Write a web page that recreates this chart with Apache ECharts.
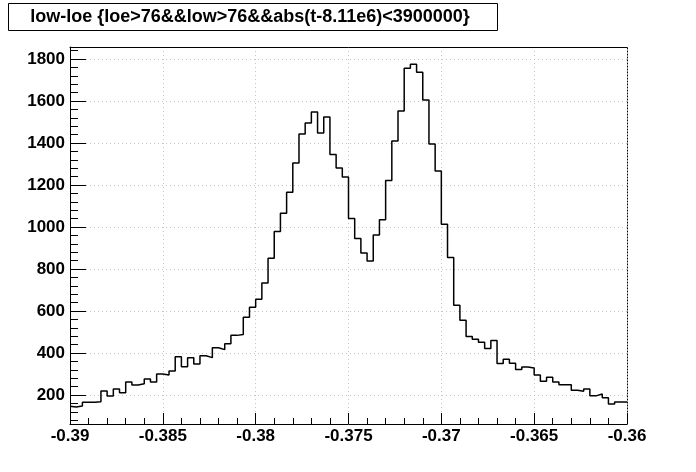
<!DOCTYPE html>
<html>
<head>
<meta charset="utf-8">
<script src="https://cdn.jsdelivr.net/npm/echarts@6/dist/echarts.min.js"></script>
<style>
html,body{margin:0;padding:0;background:#fff;}
#chart{width:696px;height:472px;}
</style>
</head>
<body>
<div id="chart"></div>
<script>
const titleText = 'low-loe {loe>76&&low>76&&abs(t-8.11e6)<3900000}';
const xMin = -0.39;
const xMax = -0.36;
const xTickStep = 0.005;
const yMin = 62;
const yMax = 1857;
const yTickValues = [200, 400, 600, 800, 1000, 1200, 1400, 1600, 1800];
const yMinorStep = 40;
const counts = [
  146, 143, 148, 165, 166, 168, 219, 195, 229, 211,
  262, 248, 254, 276, 262, 300, 295, 314, 382, 335,
  378, 348, 387, 378, 425, 416, 444, 484, 488, 570,
  618, 656, 733, 851, 979, 1065, 1166, 1305, 1443, 1495,
  1548, 1448, 1524, 1345, 1281, 1238, 1040, 945, 876, 838,
  962, 1035, 1221, 1410, 1552, 1756, 1775, 1737, 1605, 1395,
  1267, 1013, 855, 627, 556, 479, 465, 451, 422, 460,
  350, 370, 351, 321, 333, 329, 295, 266, 285, 262,
  249, 249, 223, 218, 229, 196, 205, 187, 157, 167
];

const binWidth = (xMax - xMin) / counts.length;
const stepData = counts.map((c, k) => [xMin + k * binWidth, c]);
stepData.push([xMax, counts[counts.length - 1]]);

const yMinorValues = [];
for (let v = Math.ceil(yMin / yMinorStep) * yMinorStep; v <= yMax; v += yMinorStep) {
  if (v % 200 !== 0) yMinorValues.push(v);
}

const FONT = '"Liberation Sans", Arial, Helvetica, sans-serif';
const gridCol = '#c4c4c4';

const chart = echarts.init(document.getElementById('chart'), null, {renderer: 'canvas'});
chart.setOption({
  animation: false,
  backgroundColor: '#fff',
  grid: {left: 70, right: 69, top: 47, bottom: 48, containLabel: false},
  xAxis: [
    {
      type: 'value', min: xMin, max: xMax, interval: xTickStep, position: 'bottom',
      axisLine: {show: true, onZero: false, lineStyle: {color: '#000', width: 1}},
      axisTick: {show: true, inside: true, length: 11, lineStyle: {color: '#000'}},
      minorTick: {show: true, splitNumber: 5, length: 6, lineStyle: {color: '#000'}},
      axisLabel: {
        color: '#000', fontFamily: FONT, fontWeight: 'bold', fontSize: 17, margin: 4,
        formatter: v => parseFloat(v.toFixed(4)).toString()
      },
      splitLine: {show: true, lineStyle: {color: gridCol, type: [1, 3], width: 1}}
    },
    {
      type: 'value', min: xMin, max: xMax, position: 'top',
      axisLine: {show: true, onZero: false, lineStyle: {color: '#000', width: 1}},
      axisTick: {show: false}, axisLabel: {show: false}, splitLine: {show: false}
    }
  ],
  yAxis: [
    {
      type: 'value', min: yMin, max: yMax, position: 'left',
      axisLine: {show: true, onZero: false, lineStyle: {color: '#000', width: 1}},
      axisTick: {show: true, inside: true, length: 16, customValues: yTickValues, lineStyle: {color: '#000'}},
      axisLabel: {
        color: '#000', fontFamily: FONT, fontWeight: 'bold', fontSize: 17, margin: 5,
        customValues: yTickValues,
        formatter: v => String(Math.round(v))
      },
      splitLine: {show: true, lineStyle: {color: gridCol, type: [1, 3], width: 1}}
    },
    {
      type: 'value', min: yMin, max: yMax, position: 'left',
      axisLine: {show: false},
      axisTick: {show: true, inside: true, length: 8, customValues: yMinorValues, lineStyle: {color: '#000'}},
      axisLabel: {show: false}, splitLine: {show: false}
    },
    {
      type: 'value', min: yMin, max: yMax, position: 'right',
      axisLine: {show: true, onZero: false, lineStyle: {color: '#000', width: 1, type: [1, 2]}},
      axisTick: {show: false}, axisLabel: {show: false}, splitLine: {show: false}
    }
  ],
  series: [{
    type: 'line',
    xAxisIndex: 0, yAxisIndex: 0,
    data: stepData,
    step: 'start',
    symbol: 'none',
    lineStyle: {color: '#000', width: 1.5},
    z: 5
  }],
  graphic: [
    {
      type: 'rect', left: 8, top: 3, z: 10,
      shape: {width: 489, height: 27},
      style: {fill: '#fff', stroke: '#000', lineWidth: 1}
    },
    {
      type: 'text', x: 250, y: 17, z: 11,
      style: {
        text: titleText, fill: '#000', font: 'bold 18px ' + FONT,
        align: 'center', verticalAlign: 'middle'
      }
    }
  ]
});
</script>
</body>
</html>
